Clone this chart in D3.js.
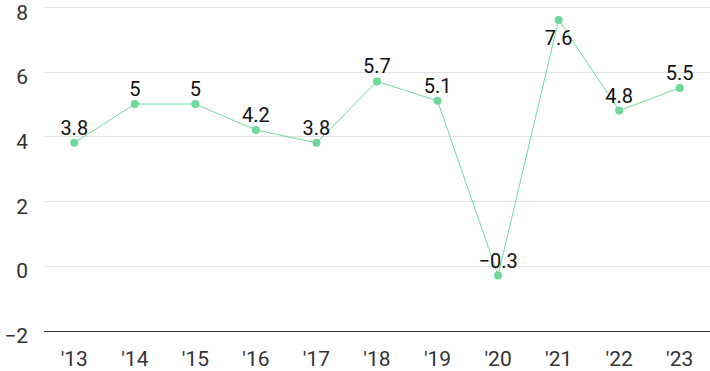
<!DOCTYPE html>
<html>
<head>
<meta charset="utf-8">
<script src="https://cdn.jsdelivr.net/npm/d3@7"></script>
<style>
  body { margin: 0; background: #fff; }
  svg { font-family: Roboto, "Noto Sans", sans-serif; }
</style>
</head>
<body>
<svg id="chart" width="710" height="371"></svg>
<script>
// data
var years = ["'13", "'14", "'15", "'16", "'17", "'18", "'19", "'20", "'21", "'22", "'23"];
var growth = [3.8, 5, 5, 4.2, 3.8, 5.7, 5.1, -0.3, 7.6, 4.8, 5.5];
var yTicks = [-2, 0, 2, 4, 6, 8];

var m = {top: 7, right: 0, bottom: 40, left: 44},
    w = 710 - m.left - m.right,
    h = 371 - m.top - m.bottom;

var svg = d3.select("#chart");
var g = svg.append("g").attr("transform", "translate(" + m.left + "," + m.top + ")");

var x = d3.scaleBand().domain(years).range([0, w]);
var y = d3.scaleLinear().domain([-2, 8]).range([h - 0.5, 0]);

// gridlines
g.append("g").selectAll("line")
    .data(yTicks.filter(function (d) { return d > -2; }))
    .enter().append("line")
    .attr("x1", 0).attr("x2", w)
    .attr("y1", function (d) { return Math.round(y(d)) + 0.5; })
    .attr("y2", function (d) { return Math.round(y(d)) + 0.5; })
    .attr("stroke", "#e2e2e2");

// baseline
g.append("line")
    .attr("x1", 0).attr("x2", w)
    .attr("y1", Math.round(y(-2)) + 0.5).attr("y2", Math.round(y(-2)) + 0.5)
    .attr("stroke", "#333").attr("stroke-width", 1.2);

// y labels
g.append("g").selectAll("text")
    .data(yTicks)
    .enter().append("text")
    .text(function (d) { return d < 0 ? "\u2212" + Math.abs(d) : d; })
    .attr("x", -16)
    .attr("y", function (d) { return y(d) + 12.5; })
    .attr("text-anchor", "end")
    .attr("font-size", 21)
    .attr("fill", "#333");

// x labels
g.append("g").selectAll("text")
    .data(years)
    .enter().append("text")
    .text(function (d) { return d; })
    .attr("x", function (d) { return x(d) + x.bandwidth() / 2; })
    .attr("y", h + 34.5)
    .attr("text-anchor", "middle")
    .attr("font-size", 21)
    .attr("fill", "#333");

var cx = function (d, i) { return x(years[i]) + x.bandwidth() / 2; };

// line
g.append("path")
    .datum(growth)
    .attr("fill", "none")
    .attr("stroke", "#6edc9c")
    .attr("stroke-width", 1)
    .attr("d", d3.line().x(cx).y(function (d) { return y(d); }));

// points
g.append("g").selectAll("circle")
    .data(growth)
    .enter().append("circle")
    .attr("cx", cx)
    .attr("cy", function (d) { return y(d); })
    .attr("r", 4)
    .attr("fill", "#6fd998");

// value labels
g.append("g").selectAll("text")
    .data(growth)
    .enter().append("text")
    .text(function (d) { return d < 0 ? "\u2212" + Math.abs(d) : d; })
    .attr("x", cx)
    .attr("y", function (d) { return d > 7 ? y(d) + 25 : y(d) - 8; })
    .attr("text-anchor", "middle")
    .attr("font-size", 20)
    .attr("fill", "#111");
</script>
</body>
</html>
